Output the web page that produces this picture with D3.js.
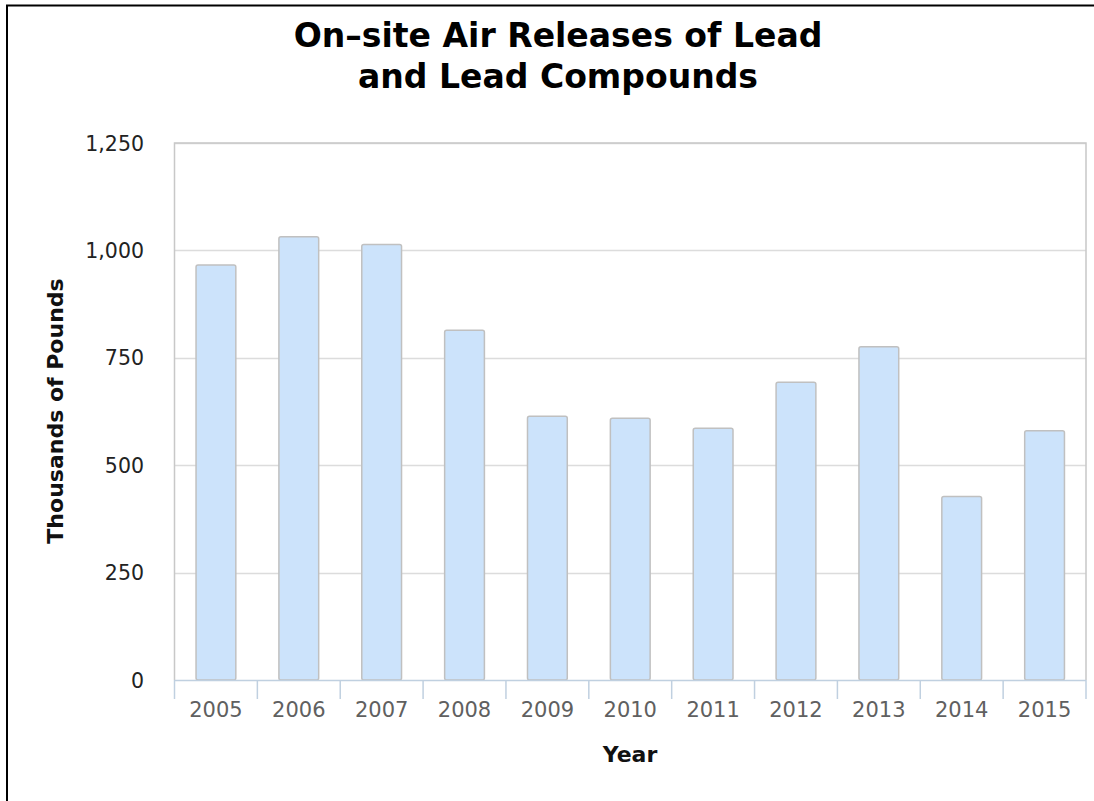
<!DOCTYPE html>
<html><head><meta charset="utf-8">
<script src="https://cdn.jsdelivr.net/npm/d3@7"></script>
<style>body{margin:0;background:#fff;}svg{display:block;font-family:"DejaVu Sans",sans-serif;}</style>
</head><body>
<svg id="c" width="1094" height="801"></svg>
<script>
const years = ["2005","2006","2007","2008","2009","2010","2011","2012","2013","2014","2015"];
const values = [966, 1032, 1014, 814, 614, 609, 586, 693, 776, 427, 580];
const yTicks = [0, 250, 500, 750, 1000, 1250];
const titleLines = ["On\u2013site Air Releases of Lead", "and Lead Compounds"];

const svg = d3.select("#c");
const L = 174.5, R = 1086, T = 143, B = 680;

svg.append("rect").attr("x",7).attr("y",5.5).attr("width",1200).attr("height",1000)
  .attr("fill","none").attr("stroke","#000").attr("stroke-width",2);

const x = d3.scaleBand().domain(years).range([L, R]).paddingInner(0.52).paddingOuter(0.26);
const y = d3.scaleLinear().domain([0, 1250]).range([B, T]);

// gridlines
svg.append("g").selectAll("line").data(yTicks.slice(1)).join("line")
  .attr("x1", L).attr("x2", R).attr("y1", d => Math.round(y(d))+0.5).attr("y2", d => Math.round(y(d))+0.5)
  .attr("stroke", "#dcdcdc").attr("stroke-width", 1.5);

// plot border (left, right, top)
svg.append("path").attr("d", `M${L},${B}V${T}H${R}V${B}`).attr("fill","none")
  .attr("stroke","#c8c8c8").attr("stroke-width",1.5);

// bars
svg.append("g").selectAll("rect").data(years).join("rect")
  .attr("x", d => x(d)).attr("width", x.bandwidth())
  .attr("y", (d,i) => y(values[i])).attr("height", (d,i) => B - y(values[i]))
  .attr("rx", 2).attr("fill", "#cce3fb").attr("stroke", "#c0c0c0").attr("stroke-width", 1.5);

// x axis
const xa = svg.append("g");
xa.append("line").attr("x1", L).attr("x2", R).attr("y1", B+0.5).attr("y2", B+0.5)
  .attr("stroke","#c0d0e0").attr("stroke-width",1.5);
const step = x.step();
const tickXs = years.map(d => x(d) - x.paddingInner()*step/2).concat([R]);
xa.selectAll("line.t").data(tickXs).join("line").attr("class","t")
  .attr("x1", d=>d).attr("x2", d=>d).attr("y1", B).attr("y2", B+19)
  .attr("stroke","#c0d0e0").attr("stroke-width",1.5);
xa.selectAll("text").data(years).join("text")
  .attr("x", d => x(d) + x.bandwidth()/2).attr("y", 717)
  .attr("text-anchor","middle").attr("font-size", 21).attr("fill","#606060").text(d=>d);

// y axis labels
svg.append("g").selectAll("text").data(yTicks).join("text")
  .attr("x", 144).attr("y", d => y(d) + 7.5).attr("text-anchor","end")
  .attr("font-size", 20.5).attr("fill","#222").text(d => d3.format(",")(d));

// axis titles
svg.append("text").attr("transform","translate(63,411) rotate(-90)").attr("text-anchor","middle")
  .attr("font-size",22).attr("font-weight","bold").attr("fill","#111").text("Thousands of Pounds");
svg.append("text").attr("x",630).attr("y",762).attr("text-anchor","middle")
  .attr("font-size",22).attr("font-weight","bold").attr("fill","#111").text("Year");

// title
const tEls = svg.append("g").selectAll("text").data(titleLines).join("text")
  .attr("x", 558).attr("y", (d,i) => 47 + i*41).attr("text-anchor","middle")
  .attr("font-size", 32).attr("font-weight","bold").attr("fill","#000").text(d=>d);
const w0 = tEls.node().getComputedTextLength();
tEls.attr("font-size", 32*529/w0);
</script>
</body></html>
